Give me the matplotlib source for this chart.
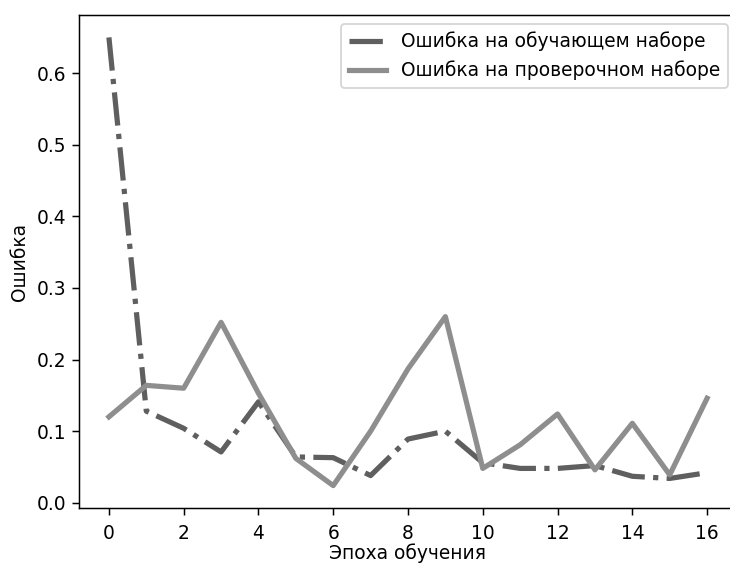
import matplotlib
matplotlib.use("Agg")
import matplotlib.pyplot as plt
import numpy as np

epochs = list(range(17))
train_loss = [0.650, 0.128, 0.104, 0.071, 0.141, 0.064, 0.063, 0.038, 0.089, 0.100,
              0.056, 0.048, 0.048, 0.052, 0.037, 0.034, 0.042]
val_loss = [0.120, 0.164, 0.160, 0.252, 0.153, 0.062, 0.024, 0.100, 0.187, 0.260,
            0.048, 0.081, 0.124, 0.046, 0.111, 0.039, 0.146]

train_label = "Ошибка на обучающем наборе"
val_label = "Ошибка на проверочном наборе"

DPI = 134
W, H = 730, 564

fig = plt.figure(figsize=(W / DPI, H / DPI), dpi=DPI)
# the reference is a crop: the axes run past the right edge of the picture
ax = fig.add_axes([79 / W, 1 - 508 / H, (737 - 79) / W, (508 - 15) / H])

ax.plot(epochs, train_loss, linestyle="-.", color="#5f5f5f", linewidth=2.8, label=train_label)
ax.plot(epochs, val_loss, linestyle="-", color="#8e8e8e", linewidth=2.8, label=val_label)

ax.set_xticks(np.arange(0, 17, 2))
ax.tick_params(axis="x", pad=5)
ax.set_xlabel("Эпоха обучения", labelpad=0.5)
ax.set_ylabel("Ошибка")
ax.legend(loc="upper right")

fig.savefig("out.png", dpi=DPI)
